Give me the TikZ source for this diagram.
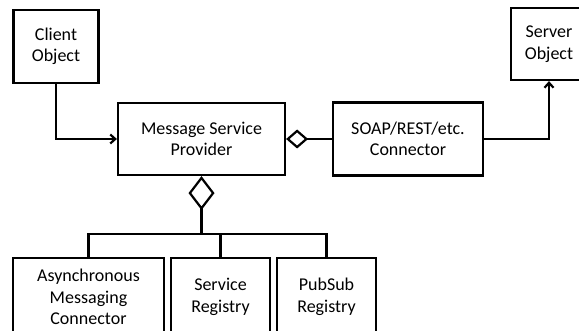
\documentclass[tikz,border=0pt]{standalone}
\usepackage{fontspec}
\setmainfont{Carlito}
\usetikzlibrary{arrows.meta}

\tikzset{
	block/.style={draw, line width=2.2pt, align=center, inner sep=2pt,
		font=\fontsize{18}{21.5}\selectfont},
	link/.style={line width=2.2pt},
	>={Straight Barb[length=5pt, width=9pt]}
}

\begin{document}
\begin{tikzpicture}[x=1pt, y=-1pt]
	\useasboundingbox (0,0) rectangle (579,331);
	\fill [white] (0,0) rectangle (579,331);
	\clip (0,0) rectangle (579,331);

	\node [block, minimum width=85pt, minimum height=73pt] (client) at (56,46.5) {Client\\Object};
	\node [block, minimum width=76pt, minimum height=72pt] (server) at (549,44) {Server\\Object};
	\node [block, minimum width=167pt, minimum height=72pt] (msp) at (201.5,139) {Message Service\\Provider};
	\node [block, minimum width=150pt, minimum height=73pt] (soap) at (408,139) {SOAP/REST/etc.\\Connector};

	\node [block, minimum width=151pt, minimum height=78pt] (async) at (88.5,297) {Asynchronous\\Messaging\\Connector};
	\node [block, minimum width=99pt, minimum height=78pt] (service) at (220.5,297) {Service\\Registry};
	\node [block, minimum width=99pt, minimum height=78pt] (pubsub) at (326.5,297) {PubSub\\Registry};

	\draw [link, ->] (client.south) |- (msp.west);
	\draw [link, ->] (soap.east) -| (server.south);
	\draw [link, {Diamond[open, length=22pt, width=19pt]}-] (msp.east) -- (soap.west);

	\coordinate (bus) at (msp.south |- 0,234);
	\draw [link, {Diamond[open, length=34pt, width=26pt]}-] (msp.south) -- (bus);
	\draw [link] (bus) -| (async.north);
	\draw [link] (bus) -| (service.north);
	\draw [link] (bus) -| (pubsub.north);
\end{tikzpicture}
\end{document}
